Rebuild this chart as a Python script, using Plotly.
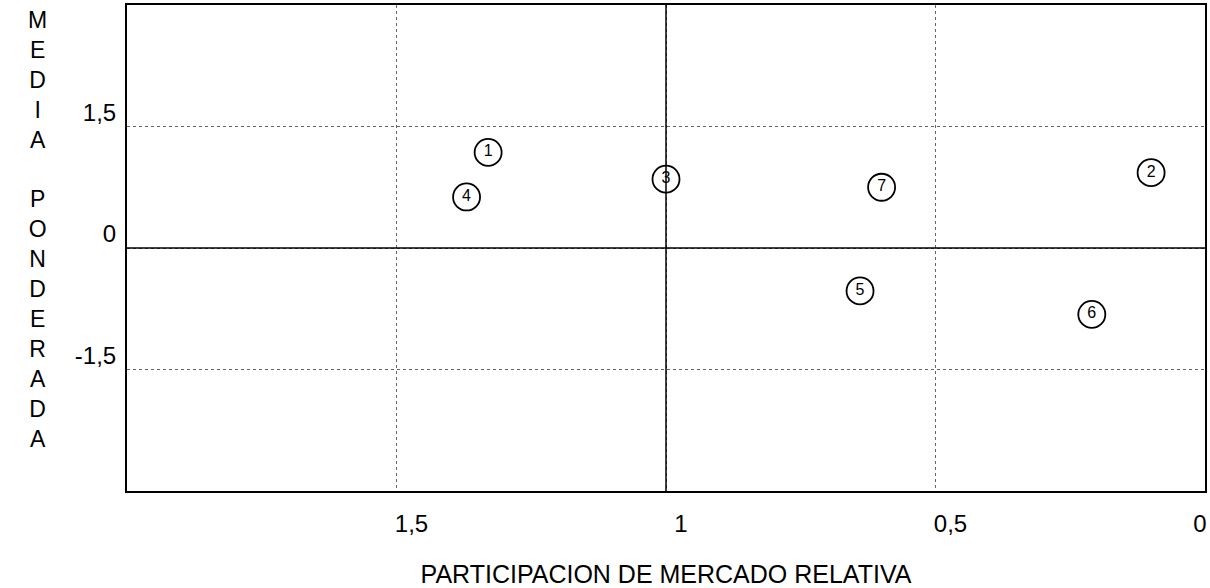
"""Matriz de participacion de mercado relativa vs media ponderada."""

import plotly.graph_objects as go

FONT = "Liberation Sans, Arial, sans-serif"

# productos (numero dentro del circulo)
LABELS = ["1", "2", "3", "4", "5", "6", "7"]
SHARE = [1.33, 0.10, 1.00, 1.37, 0.64, 0.21, 0.60]
MEAN = [1.18, 0.93, 0.85, 0.63, -0.53, -0.82, 0.75]

X_TICKS = [1.5, 1, 0.5, 0]
X_TEXT = ["1,5", "1", "0,5", "0"]
Y_TICKS = [1.5, 0, -1.5]
Y_TEXT = ["1,5", "0", "-1,5"]

X_RANGE = [2, 0]
Y_RANGE = [-3, 3]
MID_X = 1
MID_Y = 0

Y_TITLE = "MEDIA PONDERADA"
X_TITLE = "PARTICIPACION DE MERCADO RELATIVA"

fig = go.Figure(
    go.Scatter(
        x=SHARE,
        y=MEAN,
        mode="markers+text",
        text=LABELS,
        textposition="middle center",
        textfont=dict(family=FONT, size=16, color="black"),
        marker=dict(symbol="circle", size=27, color="white", line=dict(color="black", width=1.8)),
        hoverinfo="skip",
        showlegend=False,
    )
)

fig.add_vline(x=MID_X, line=dict(color="black", width=1.5))
fig.add_hline(y=MID_Y, line=dict(color="black", width=1.5))

# letras apiladas del titulo vertical
stacked = "<br>".join(ch if ch != " " else " " for ch in Y_TITLE)
fig.add_annotation(
    text=stacked,
    xref="paper", yref="paper",
    x=-0.083, y=0.5,
    xanchor="center", yanchor="middle",
    showarrow=False,
    align="center",
    font=dict(family=FONT, size=23, color="black"),
    yshift=19,
)

# etiquetas interiores un poco a la derecha de su linea; el "0" del borde, a la izquierda
x_text = ["\u00a0" * 6 + t for t in X_TEXT[:-1]] + [X_TEXT[-1]]

fig.update_xaxes(
    range=X_RANGE,
    tickvals=X_TICKS,
    ticktext=x_text,
    showgrid=True,
    gridcolor="#666666",
    griddash="dot",
    gridwidth=1,
    zeroline=False,
    showline=True,
    mirror=True,
    linecolor="black",
    linewidth=2,
    ticks="",
    automargin=False,
    ticklabelstandoff=10,
    ticklabelshift=5,
    tickfont=dict(family=FONT, size=24, color="black"),
    title=dict(text=X_TITLE, font=dict(family=FONT, size=25, color="black"), standoff=40),
)
fig.update_yaxes(
    range=Y_RANGE,
    tickvals=Y_TICKS,
    ticktext=Y_TEXT,
    showgrid=True,
    gridcolor="#666666",
    griddash="dot",
    gridwidth=1,
    zeroline=False,
    showline=True,
    mirror=True,
    linecolor="black",
    linewidth=2,
    ticks="",
    automargin=False,
    ticklabelstandoff=4,
    ticklabelshift=-14,
    tickfont=dict(family=FONT, size=24, color="black"),
)

fig.update_layout(
    width=1210,
    height=588,
    margin=dict(l=127, r=5, t=5, b=97),
    paper_bgcolor="white",
    plot_bgcolor="white",
    font=dict(family=FONT, color="black"),
)

# quitar el margen del body para que la figura llene la ventana
fig.write_html(
    "out.html",
    config={"displayModeBar": False},
    post_script="document.body.style.margin='0';",
)
